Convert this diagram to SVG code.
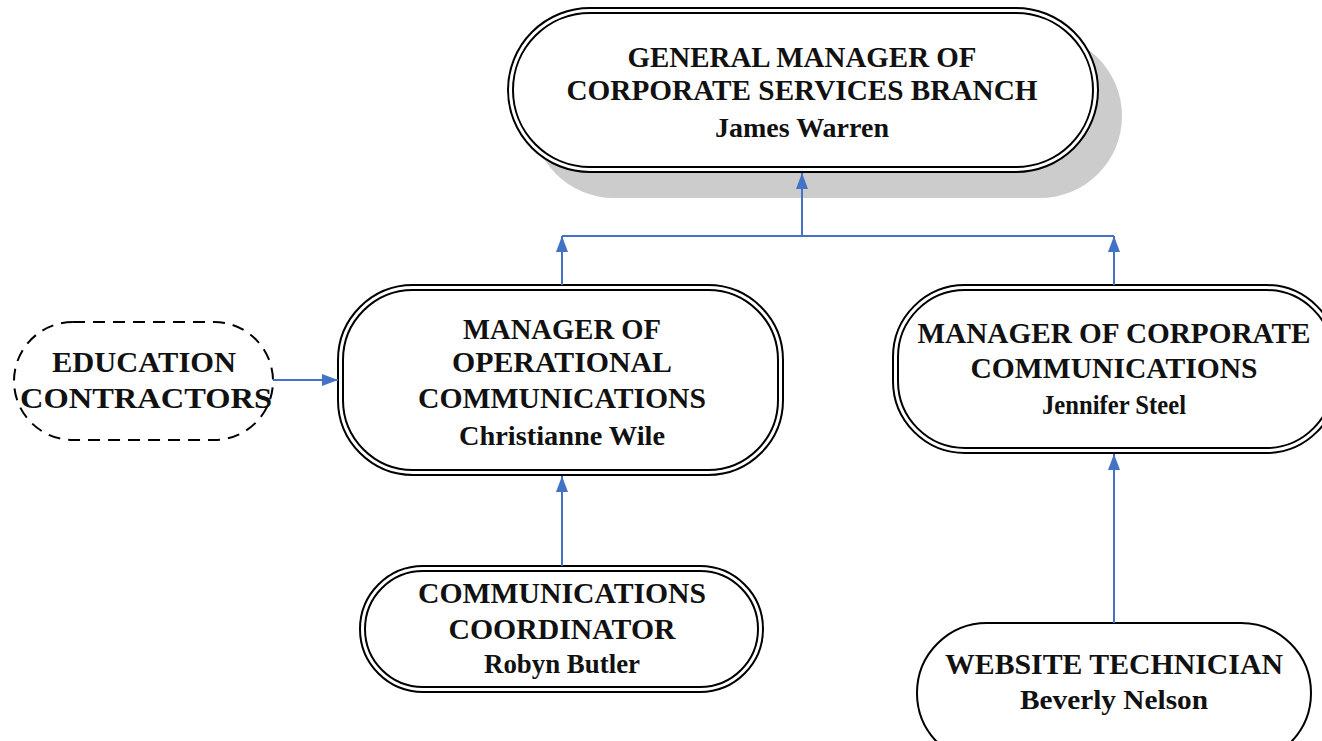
<svg xmlns="http://www.w3.org/2000/svg" width="1322" height="741" viewBox="0 0 1322 741">
<defs>
<marker id="ah" viewBox="0 0 16 12" refX="16" refY="6" markerWidth="16" markerHeight="12" markerUnits="userSpaceOnUse" orient="auto">
<path d="M0,0 L16,6 L0,12 Z" fill="#4472C4"/>
</marker>
<style>
.o{fill:#fff;stroke:#000;stroke-width:2}
.i{fill:none;stroke:#000;stroke-width:2}
.t{font-family:"Liberation Serif","Times New Roman",serif;font-weight:bold;font-size:29px;text-anchor:middle;fill:#111}
.n{font-size:27px}
.c{fill:none;stroke:#4472C4;stroke-width:2}
</style>
</defs>
<rect width="1322" height="741" fill="#fff"/>
<g id="gm">
<rect x="532" y="34" width="590" height="164" rx="82" fill="#cccccc"/>
<rect class="o" x="508" y="8" width="590" height="164" rx="82"/>
<rect class="i" x="513" y="13" width="580" height="154" rx="77"/>
<text class="t" x="802" y="67" textLength="349" lengthAdjust="spacingAndGlyphs">GENERAL MANAGER OF</text>
<text class="t" x="802" y="100" textLength="471" lengthAdjust="spacingAndGlyphs">CORPORATE SERVICES BRANCH</text>
<text class="t n" x="802" y="137" textLength="174" lengthAdjust="spacingAndGlyphs">James Warren</text>
</g>
<g id="moc">
<rect class="o" x="338" y="285" width="445" height="190" rx="75"/>
<rect class="i" x="343" y="290" width="435" height="180" rx="70"/>
<text class="t" x="562" y="339" textLength="198" lengthAdjust="spacingAndGlyphs">MANAGER OF</text>
<text class="t" x="562" y="372" textLength="220" lengthAdjust="spacingAndGlyphs">OPERATIONAL</text>
<text class="t" x="562" y="408" textLength="288" lengthAdjust="spacingAndGlyphs">COMMUNICATIONS</text>
<text class="t n" x="562" y="445" textLength="206" lengthAdjust="spacingAndGlyphs">Christianne Wile</text>
</g>
<g id="mcc">
<rect class="o" x="893" y="285" width="445" height="168" rx="72"/>
<rect class="i" x="898" y="290" width="435" height="158" rx="67"/>
<text class="t" x="1114" y="343" textLength="393" lengthAdjust="spacingAndGlyphs">MANAGER OF CORPORATE</text>
<text class="t" x="1114" y="378" textLength="287" lengthAdjust="spacingAndGlyphs">COMMUNICATIONS</text>
<text class="t n" x="1114" y="414" textLength="144" lengthAdjust="spacingAndGlyphs">Jennifer Steel</text>
</g>
<g id="edu">
<rect x="14" y="322" width="259" height="118" rx="59" fill="#fff" stroke="#000" stroke-width="2" stroke-dasharray="12 8"/>
<text class="t" x="144" y="372" textLength="184" lengthAdjust="spacingAndGlyphs">EDUCATION</text>
<text class="t" x="146" y="408" textLength="252" lengthAdjust="spacingAndGlyphs">CONTRACTORS</text>
</g>
<g id="cc">
<rect class="o" x="360" y="566" width="403" height="126" rx="63"/>
<rect class="i" x="365" y="571" width="393" height="116" rx="58"/>
<text class="t" x="562" y="603" textLength="288" lengthAdjust="spacingAndGlyphs">COMMUNICATIONS</text>
<text class="t" x="562" y="639" textLength="227" lengthAdjust="spacingAndGlyphs">COORDINATOR</text>
<text class="t n" x="562" y="673" textLength="156" lengthAdjust="spacingAndGlyphs">Robyn Butler</text>
</g>
<g id="wt">
<rect class="o" x="917" y="623" width="394" height="140" rx="70"/>
<text class="t" x="1114" y="674" textLength="338" lengthAdjust="spacingAndGlyphs">WEBSITE TECHNICIAN</text>
<text class="t n" x="1114" y="709" textLength="188" lengthAdjust="spacingAndGlyphs">Beverly Nelson</text>
</g>
<g id="connectors">
<line class="c" x1="562" y1="236" x2="1114" y2="236"/>
<line class="c" x1="802" y1="236" x2="802" y2="173" marker-end="url(#ah)"/>
<line class="c" x1="562" y1="285" x2="562" y2="236" marker-end="url(#ah)"/>
<line class="c" x1="1114" y1="285" x2="1114" y2="236" marker-end="url(#ah)"/>
<line class="c" x1="562" y1="566" x2="562" y2="476" marker-end="url(#ah)"/>
<line class="c" x1="1114" y1="623" x2="1114" y2="454" marker-end="url(#ah)"/>
<line class="c" x1="273" y1="380" x2="338" y2="380" marker-end="url(#ah)"/>
</g>
</svg>
